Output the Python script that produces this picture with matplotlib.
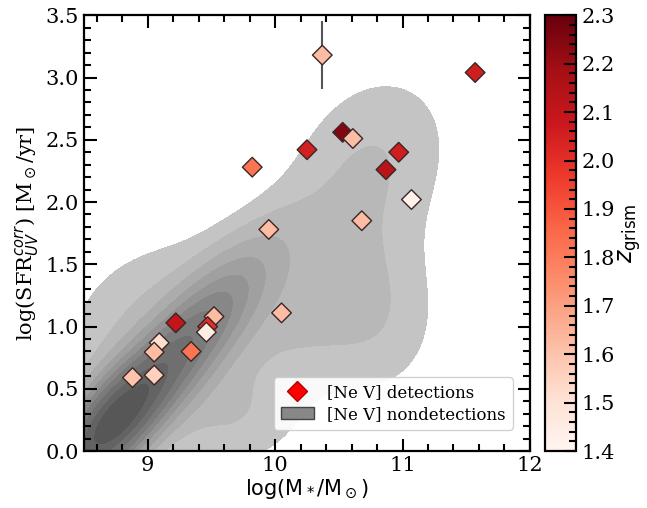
import numpy as np
import matplotlib.pyplot as plt
from matplotlib.ticker import MultipleLocator, AutoMinorLocator
from matplotlib.lines import Line2D
from matplotlib.patches import Patch

plt.rcParams['font.family'] = 'DejaVu Serif'
plt.rcParams['mathtext.fontset'] = 'dejavusans'

# [Ne V] detections: stellar mass, UV-corrected SFR, grism redshift
logm = [10.37, 11.57, 10.53, 10.61, 10.25, 9.82, 10.97, 10.87, 11.07, 9.95,
        10.68, 10.05, 9.22, 9.52, 9.47, 9.46, 9.34, 9.09, 9.05, 8.88, 9.05]
logsfr = [3.18, 3.04, 2.56, 2.51, 2.42, 2.28, 2.40, 2.26, 2.02, 1.78,
          1.85, 1.11, 1.03, 1.08, 1.00, 0.955, 0.80, 0.87, 0.795, 0.59, 0.61]
sfr_err = [0.27, 0.02, 0.02, 0.02, 0.02, 0.02, 0.02, 0.02, 0.02, 0.02,
           0.02, 0.02, 0.02, 0.02, 0.02, 0.02, 0.08, 0.02, 0.02, 0.02, 0.02]
zgrism = [1.62, 2.06, 2.25, 1.62, 2.05, 1.82, 2.06, 2.13, 1.42, 1.62,
          1.62, 1.62, 2.10, 1.62, 2.00, 1.45, 1.82, 1.52, 1.62, 1.60, 1.56]

# nondetection density, described as a sum of gaussian blobs
# (x0, y0, sigma_x, sigma_y, rho, weight)
kde_x0 = [8.70, 9.30, 10.20, 10.78, 10.85, 8.95, 9.60]
kde_y0 = [0.20, 0.85, 1.25, 2.40, 1.00, 1.05, 0.25]
kde_sx = [0.30, 0.38, 0.55, 0.45, 0.35, 0.50, 0.40]
kde_sy = [0.35, 0.45, 0.60, 0.50, 0.45, 0.50, 0.30]
kde_rho = [0.70, 0.80, 0.35, 0.20, 0.00, 0.30, 0.00]
kde_w = [1.00, 0.55, 0.09, 0.07, 0.05, 0.07, 0.06]
kde_levels = [0.035, 0.068, 0.12, 0.19, 0.27, 0.36, 0.46, 0.58, 0.72, 0.86, 1.01]

gx, gy = np.meshgrid(np.linspace(7.8, 12.0, 320), np.linspace(-0.6, 3.6, 320))
dens = np.zeros_like(gx)
for x0, y0, sx, sy, r, w in zip(kde_x0, kde_y0, kde_sx, kde_sy, kde_rho, kde_w):
    u = (gx - x0) / sx
    v = (gy - y0) / sy
    dens += w * np.exp(-(u**2 - 2*r*u*v + v**2) / (2*(1 - r**2)))
dens /= dens.max()

fig = plt.figure(figsize=(6.47, 5.08), dpi=100)
ax = fig.add_axes([0.130, 0.112, 0.689, 0.858])
cax = fig.add_axes([0.842, 0.112, 0.049, 0.858])

grays = [str(g) for g in np.linspace(0.77, 0.34, len(kde_levels) - 1)]
ax.contourf(gx, gy, dens, levels=kde_levels, colors=grays, zorder=1)

ax.errorbar(logm, logsfr, yerr=sfr_err, fmt='none', ecolor='#555555',
            elinewidth=1.5, capsize=0, zorder=2)
sc = ax.scatter(logm, logsfr, c=zgrism, cmap='Reds', vmin=1.4, vmax=2.3,
                marker='D', s=100, edgecolors='#3b2626', linewidths=1.0, zorder=3)

ax.set_xlim(8.5, 12)
ax.set_ylim(0, 3.5)
ax.xaxis.set_major_locator(MultipleLocator(1))
ax.xaxis.set_minor_locator(MultipleLocator(0.2))
ax.yaxis.set_major_locator(MultipleLocator(0.5))
ax.yaxis.set_minor_locator(MultipleLocator(0.1))
ax.tick_params(which='both', direction='in', top=True, right=True, width=1.5,
               labelsize=15)
ax.tick_params(which='major', length=9)
ax.tick_params(which='minor', length=5)
for sp in ax.spines.values():
    sp.set_linewidth(1.6)

ax.set_xlabel(r'$\mathrm{log(M_*/M_\odot)}$', fontsize=15, labelpad=2)
ax.set_ylabel(r'log(SFR$^{corr}_{UV}$) [M$_\odot$/yr]', fontsize=15, labelpad=3)

handles = [Line2D([], [], marker='D', color='red', linestyle='none',
                  markersize=10, markeredgecolor='#b00000'),
           Patch(facecolor='#888888', edgecolor='#444444')]
ax.legend(handles, ['[Ne V] detections', '[Ne V] nondetections'],
          loc='lower right', fontsize=12, framealpha=0.9, labelspacing=0.3,
          borderpad=0.4, bbox_to_anchor=(0.98, 0.03))

cb = fig.colorbar(sc, cax=cax)
cb.set_ticks(np.arange(1.4, 2.31, 0.1))
cb.ax.yaxis.set_minor_locator(AutoMinorLocator(5))
cb.ax.tick_params(which='both', direction='in', width=1.5, labelsize=15)
cb.ax.tick_params(which='major', length=9)
cb.ax.tick_params(which='minor', length=5)
cb.outline.set_linewidth(1.6)
cb.set_label(r'$z_{\rm grism}$', fontsize=17, labelpad=1)

fig.savefig('out.png', dpi=100)
